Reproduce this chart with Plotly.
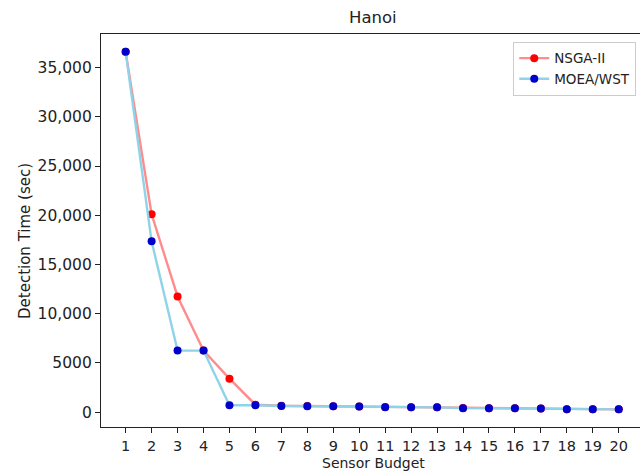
import plotly.graph_objects as go

budget = list(range(1, 21))
nsga2 = [36600, 20100, 11750, 6250, 3400, 750, 650, 620, 600, 580, 520, 500, 480, 420, 400, 380, 370, 300, 290, 280]
moea_wst = [36600, 17350, 6250, 6250, 700, 700, 620, 600, 590, 580, 500, 490, 480, 400, 390, 380, 370, 300, 290, 280]
ytick_vals = [0, 5000, 10000, 15000, 20000, 25000, 30000, 35000]
ytick_text = ["0", "5000", "10,000", "15,000", "20,000", "25,000", "30,000", "35,000"]

font = "DejaVu Sans, Liberation Sans, sans-serif"

L, T, B, W, H = 101, 34, 45, 640, 472
PW = W - L
PH = H - T - B

def px(xp):
    return (xp - L) / PW

def py(yp):
    return (H - B - yp) / PH

fig = go.Figure()
fig.add_trace(go.Scatter(
    x=budget, y=nsga2, name="NSGA-II", mode="lines+markers",
    line=dict(color="rgba(255,0,0,0.45)", width=2.4),
    marker=dict(color="#ff0000", size=8),
))
fig.add_trace(go.Scatter(
    x=budget, y=moea_wst, name="MOEA/WST", mode="lines+markers",
    line=dict(color="#8fd3e8", width=2.4),
    marker=dict(color="#0000cd", size=8),
))

fig.update_layout(
    width=W, height=H,
    margin=dict(l=L, r=0, t=T, b=B),
    paper_bgcolor="white", plot_bgcolor="white",
    font=dict(family=font, size=13, color="#222"),
    showlegend=True,
    legend=dict(x=0.993, y=0.98, xanchor="right", yanchor="top",
                bordercolor="#cccccc", borderwidth=1, bgcolor="white",
                font=dict(size=13.5), tracegroupgap=0),
    xaxis=dict(range=[0.05, 20.82], tickmode="array", tickvals=budget,
               showgrid=False, zeroline=False, showline=True, linecolor="#222",
               linewidth=1.2, mirror=True, ticks="outside", ticklen=5,
               tickcolor="#222", tickfont=dict(size=14.5)),
    yaxis=dict(range=[-1515, 38415], tickmode="array", tickvals=ytick_vals,
               ticktext=ytick_text, showgrid=False, zeroline=False,
               showline=True, linecolor="#222", linewidth=1.2,
               ticks="outside", ticklen=5, tickcolor="#222",
               tickfont=dict(size=15.5)),
    annotations=[
        dict(text="Hanoi", x=px(373), y=1, xref="paper", yref="paper",
             xanchor="center", yanchor="bottom", yshift=5,
             showarrow=False, font=dict(size=16.5, color="#222")),
        dict(text="Sensor Budget", x=px(374), y=py(463), xref="paper", yref="paper",
             xanchor="center", yanchor="middle", showarrow=False,
             font=dict(size=14, color="#222")),
        dict(text="Detection Time (sec)", x=px(25), y=py(241), xref="paper", yref="paper",
             xanchor="center", yanchor="middle", textangle=-90, showarrow=False,
             font=dict(size=15, color="#222")),
    ],
)

fig.write_html("out.html")
